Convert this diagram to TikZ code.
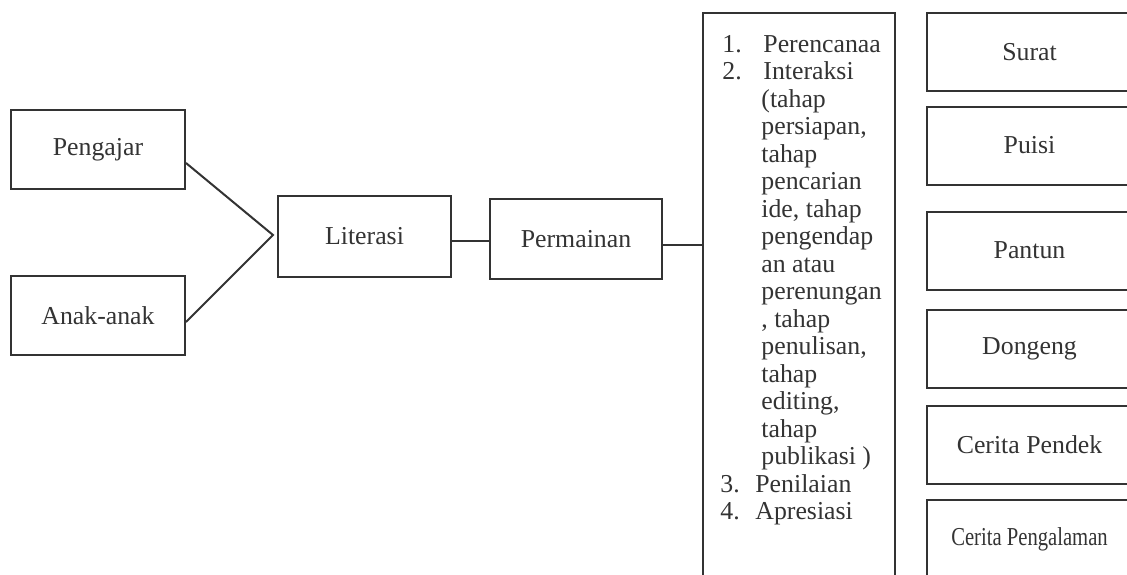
\documentclass[tikz,border=0pt]{standalone}
\usepackage{fontspec}
\setmainfont{Liberation Serif}
\usetikzlibrary{positioning, calc}

\begin{document}
\begin{tikzpicture}[
    x=0.5pt, y=-0.5pt,
    box/.style={draw=black!80, line width=1pt, inner sep=0pt,
                minimum width=#1, minimum height=39.5pt, text=black!80,
                font=\fontsize{12.9}{13.75}\selectfont},
    box/.default=87pt,
    kind/.style={box=102.5pt, minimum height=39pt},
    link/.style={draw=black!80, line width=1pt}
  ]
  \useasboundingbox (0,0) rectangle (1127,574);
  \clip (0,0) rectangle (1127,574);

  % Left level
  \node[box] (pengajar) at (98, 149.5) {Pengajar};
  \node[box] (anak) at (98, 315.5) {Anak-anak};

  % Middle level
  \node[box=86.5pt, minimum height=40.5pt] (literasi) at (364.5, 236.5) {Literasi};
  \node[box=86pt, minimum height=40pt] (permainan) at (576, 239) {Permainan};

  % Steps box
  \node[box=96pt, minimum height=300pt, anchor=north west] (tahap) at (702, 12) {};
  \node[inner sep=0pt, anchor=north west, align=left, text=black!80,
        font=\fontsize{12.9}{13.75}\selectfont] (tahaplist) at (722, 35)
    {\makebox[20.5pt][l]{1.}Perencanaa\\
     \makebox[20.5pt][l]{2.}Interaksi\\
     \hspace*{19.5pt}(tahap\\
     \hspace*{19.5pt}persiapan,\\
     \hspace*{19.5pt}tahap\\
     \hspace*{19.5pt}pencarian\\
     \hspace*{19.5pt}ide, tahap\\
     \hspace*{19.5pt}pengendap\\
     \hspace*{19.5pt}an atau\\
     \hspace*{19.5pt}perenungan\\
     \hspace*{19.5pt}, tahap\\
     \hspace*{19.5pt}penulisan,\\
     \hspace*{19.5pt}tahap\\
     \hspace*{19.5pt}editing,\\
     \hspace*{19.5pt}tahap\\
     \hspace*{19.5pt}publikasi )\\
     \hspace*{-1pt}\makebox[17.5pt][l]{3.}Penilaian\\
     \hspace*{-1pt}\makebox[17.5pt][l]{4.}Apresiasi};

  % Right level - kinds of writing
  \node[kind] (surat) at (1029.5, 52) {Surat};
  \node[kind] (puisi) at (1029.5, 145.5) {Puisi};
  \node[kind] (pantun) at (1029.5, 250.5) {Pantun};
  \node[kind] (dongeng) at (1029.5, 349) {Dongeng};
  \node[kind] (pendek) at (1029.5, 444.5) {Cerita Pendek};
  \node[kind] (pengalaman) at (1029.5, 539) {\scalebox{0.8}[1]{Cerita Pengalaman}};

  % Connectors
  \coordinate (join) at (273, 235);
  \draw[link] ([yshift=-6.75pt]pengajar.east) -- (join) -- ([yshift=-3.25pt]anak.east);
  \draw[link] ([yshift=-2pt]literasi.east) -- ([yshift=-2pt]literasi.east -| permainan.west);
  \draw[link] ([yshift=-3pt]permainan.east) -- ([yshift=-3pt]permainan.east -| tahap.west);

\end{tikzpicture}
\end{document}
